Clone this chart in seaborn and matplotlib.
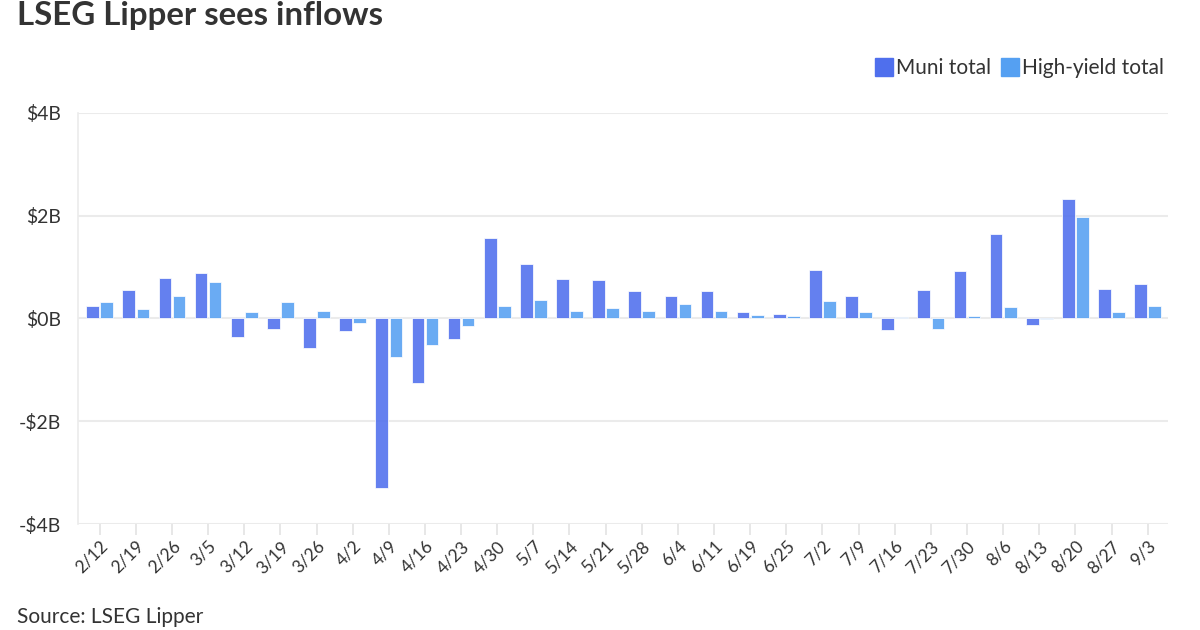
import matplotlib
matplotlib.use("Agg")
import matplotlib.pyplot as plt
import seaborn as sns
import pandas as pd
from matplotlib.lines import Line2D

# weekly fund flows, $ billions
weeks = ['2/12', '2/19', '2/26', '3/5', '3/12', '3/19', '3/26', '4/2', '4/9', '4/16',
         '4/23', '4/30', '5/7', '5/14', '5/21', '5/28', '6/4', '6/11', '6/19', '6/25',
         '7/2', '7/9', '7/16', '7/23', '7/30', '8/6', '8/13', '8/20', '8/27', '9/3']
muni_total = [0.24, 0.55, 0.79, 0.88, -0.36, -0.21, -0.57, -0.24, -3.29, -1.26,
              -0.39, 1.57, 1.06, 0.77, 0.75, 0.53, 0.43, 0.53, 0.12, 0.08,
              0.95, 0.43, -0.23, 0.56, 0.93, 1.65, -0.12, 2.33, 0.58, 0.67]
high_yield_total = [0.32, 0.18, 0.43, 0.70, 0.12, 0.32, 0.15, -0.09, -0.75, -0.52,
                    -0.14, 0.24, 0.35, 0.15, 0.20, 0.15, 0.29, 0.15, 0.06, 0.05,
                    0.34, 0.13, 0.03, -0.21, 0.05, 0.22, -0.02, 1.97, 0.12, 0.24]
series_names = ['Muni total', 'High-yield total']
y_ticks = [-4, -2, 0, 2, 4]
y_tick_labels = ['-\\$4B', '-\\$2B', '\\$0B', '\\$2B', '\\$4B']

df = pd.DataFrame({
    'week': weeks * 2,
    'value': muni_total + high_yield_total,
    'series': [series_names[0]] * len(weeks) + [series_names[1]] * len(weeks),
})

palette = {'Muni total': '#4F6FED', 'High-yield total': '#55A0F2'}
text_color = '#333333'
grid_color = '#EBEBEB'

sns.set_theme(style='white')
plt.rcParams['font.family'] = ['Lato', 'DejaVu Sans']

fig = plt.figure(figsize=(12, 6.3), dpi=100)
ax = fig.add_axes([0.065, 0.168, 0.908, 0.653])

sns.barplot(data=df, x='week', y='value', hue='series', hue_order=series_names,
            palette=palette, saturation=1, width=0.78, gap=0.1, alpha=0.88,
            edgecolor='white', linewidth=0.6, legend=False, ax=ax)

# axes styling
ax.set_ylim(-4, 4)
ax.set_yticks(y_ticks)
ax.set_yticklabels(y_tick_labels, fontsize=14, color=text_color)
ax.set_xlabel('')
ax.set_ylabel('')
ax.set_axisbelow(True)
ax.yaxis.grid(True, color=grid_color, linewidth=1.5)
for side in ['top', 'right', 'bottom']:
    ax.spines[side].set_visible(False)
ax.spines['left'].set_color(grid_color)
ax.spines['left'].set_linewidth(1.2)
ax.tick_params(axis='y', length=8, width=1.5, color=grid_color, pad=4)
ax.tick_params(axis='x', length=8, width=1.2, color='#E3E3E3', pad=2, bottom=True)
plt.setp(ax.get_xticklabels(), rotation=45, ha='right', rotation_mode='anchor',
         fontsize=12.5, color=text_color)
ax.set_xlim(-0.6, len(weeks) - 0.45)

# legend
handles = [Line2D([], [], marker='s', linestyle='', markersize=12.5,
                  markerfacecolor=palette[s], markeredgecolor=palette[s]) for s in series_names]
fig.legend(handles, series_names, loc='center right', bbox_to_anchor=(0.986, 0.892),
           ncol=2, frameon=False, fontsize=15, handletextpad=-0.2, columnspacing=0.1,
           handlelength=1.6, labelcolor=text_color)

# title and source
fig.text(0.014, 0.960, 'LSEG Lipper sees inflows', fontsize=23.8, fontweight='bold',
         color=text_color, va='baseline')
fig.text(0.014, 0.011, 'Source: LSEG Lipper', fontsize=15, color=text_color, va='baseline')

fig.savefig('out.png', dpi=100, facecolor='white')
